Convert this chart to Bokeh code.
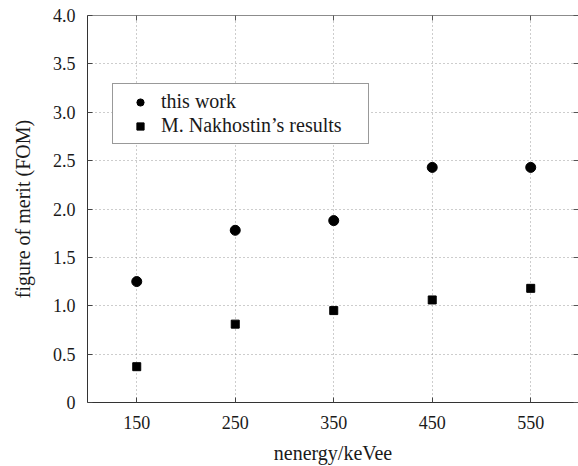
from bokeh.plotting import figure
from bokeh.models import (ColumnDataSource, FixedTicker, LinearAxis, Legend,
                          LegendItem, Range1d)
from bokeh.embed import file_html
from bokeh.resources import INLINE

# ---- data ----
energy = [150, 250, 350, 450, 550]
fom_this_work = [1.25, 1.78, 1.88, 2.43, 2.43]
fom_nakhostin = [0.37, 0.81, 0.95, 1.06, 1.18]

x_ticks = [150, 250, 350, 450, 550]
y_ticks = [0, 0.5, 1.0, 1.5, 2.0, 2.5, 3.0, 3.5, 4.0]
y_tick_labels = ["0", "0.5", "1.0", "1.5", "2.0", "2.5", "3.0", "3.5", "4.0"]

label_this = "this work"
label_nak = "M. Nakhostin\u2019s results"
x_title = "nenergy/keVee"
y_title = "figure of merit (FOM)"

FONT = "Liberation Serif"
TXT = "#1a1a1a"

p = figure(width=578, height=466, output_backend="svg", toolbar_location=None,
           x_range=Range1d(100, 598.5), y_range=Range1d(0, 4.0),
           min_border_left=87, min_border_top=15, min_border_bottom=63,
           min_border_right=0)
p.outline_line_color = None

xa = p.xaxis[0]
xa.ticker = FixedTicker(ticks=x_ticks)
xa.axis_label = x_title
ya = p.yaxis[0]
ya.ticker = FixedTicker(ticks=y_ticks)
ya.major_label_overrides = {v: s for v, s in zip(y_ticks, y_tick_labels)}
ya.axis_label = y_title

for ax in (xa, ya):
    ax.axis_line_color = "#333333"
    ax.major_tick_in = 5
    ax.major_tick_out = 0
    ax.major_tick_line_color = "#444444"
    ax.minor_tick_line_color = None
    ax.major_label_text_font = FONT
    ax.major_label_text_font_size = "18px"
    ax.major_label_text_color = TXT
    ax.axis_label_text_font = FONT
    ax.axis_label_text_font_size = "20px"
    ax.axis_label_text_font_style = "normal"
    ax.axis_label_text_color = TXT
xa.major_label_standoff = 13
xa.axis_label_standoff = 10
ya.major_label_standoff = 12
ya.axis_label_standoff = 16

top = LinearAxis(ticker=FixedTicker(ticks=x_ticks))
right = LinearAxis(ticker=FixedTicker(ticks=y_ticks))
for ax in (top, right):
    ax.major_tick_in = 5
    ax.major_tick_out = 0
    ax.major_tick_line_color = "#555555"
    ax.minor_tick_line_color = None
    ax.major_label_text_font_size = "0px"
    ax.major_label_standoff = 0
    ax.major_label_text_alpha = 0
top.axis_line_color = "#8c8c8c"
right.axis_line_color = None
p.add_layout(top, "above")
p.add_layout(right, "right")

for g in (p.xgrid[0], p.ygrid[0]):
    g.grid_line_color = "#9a9a9a"
    g.grid_line_dash = "1 3"
p.xgrid[0].ticker = FixedTicker(ticks=x_ticks)
p.ygrid[0].ticker = FixedTicker(ticks=y_ticks)

src = ColumnDataSource(dict(x=energy, a=fom_this_work, b=fom_nakhostin))
r1 = p.scatter("x", "a", source=src, marker="circle", size=10,
               fill_color="black", line_color="black")
r2 = p.scatter("x", "b", source=src, marker="square", size=8,
               fill_color="black", line_color="black")

legend = Legend(items=[LegendItem(label=label_this, renderers=[r1]),
                       LegendItem(label=label_nak, renderers=[r2])],
                location=(25, 258))
legend.label_text_font = FONT
legend.label_text_font_size = "20px"
legend.label_text_color = TXT
legend.label_height = 18
legend.label_width = 201
legend.glyph_width = 42
legend.glyph_height = 18
legend.label_standoff = 0
legend.padding = 6
legend.spacing = 1
legend.margin = 0
legend.border_line_color = "#333333"
legend.background_fill_alpha = 1.0
p.add_layout(legend, "center")

open("out.html", "w").write(file_html(p, INLINE))
